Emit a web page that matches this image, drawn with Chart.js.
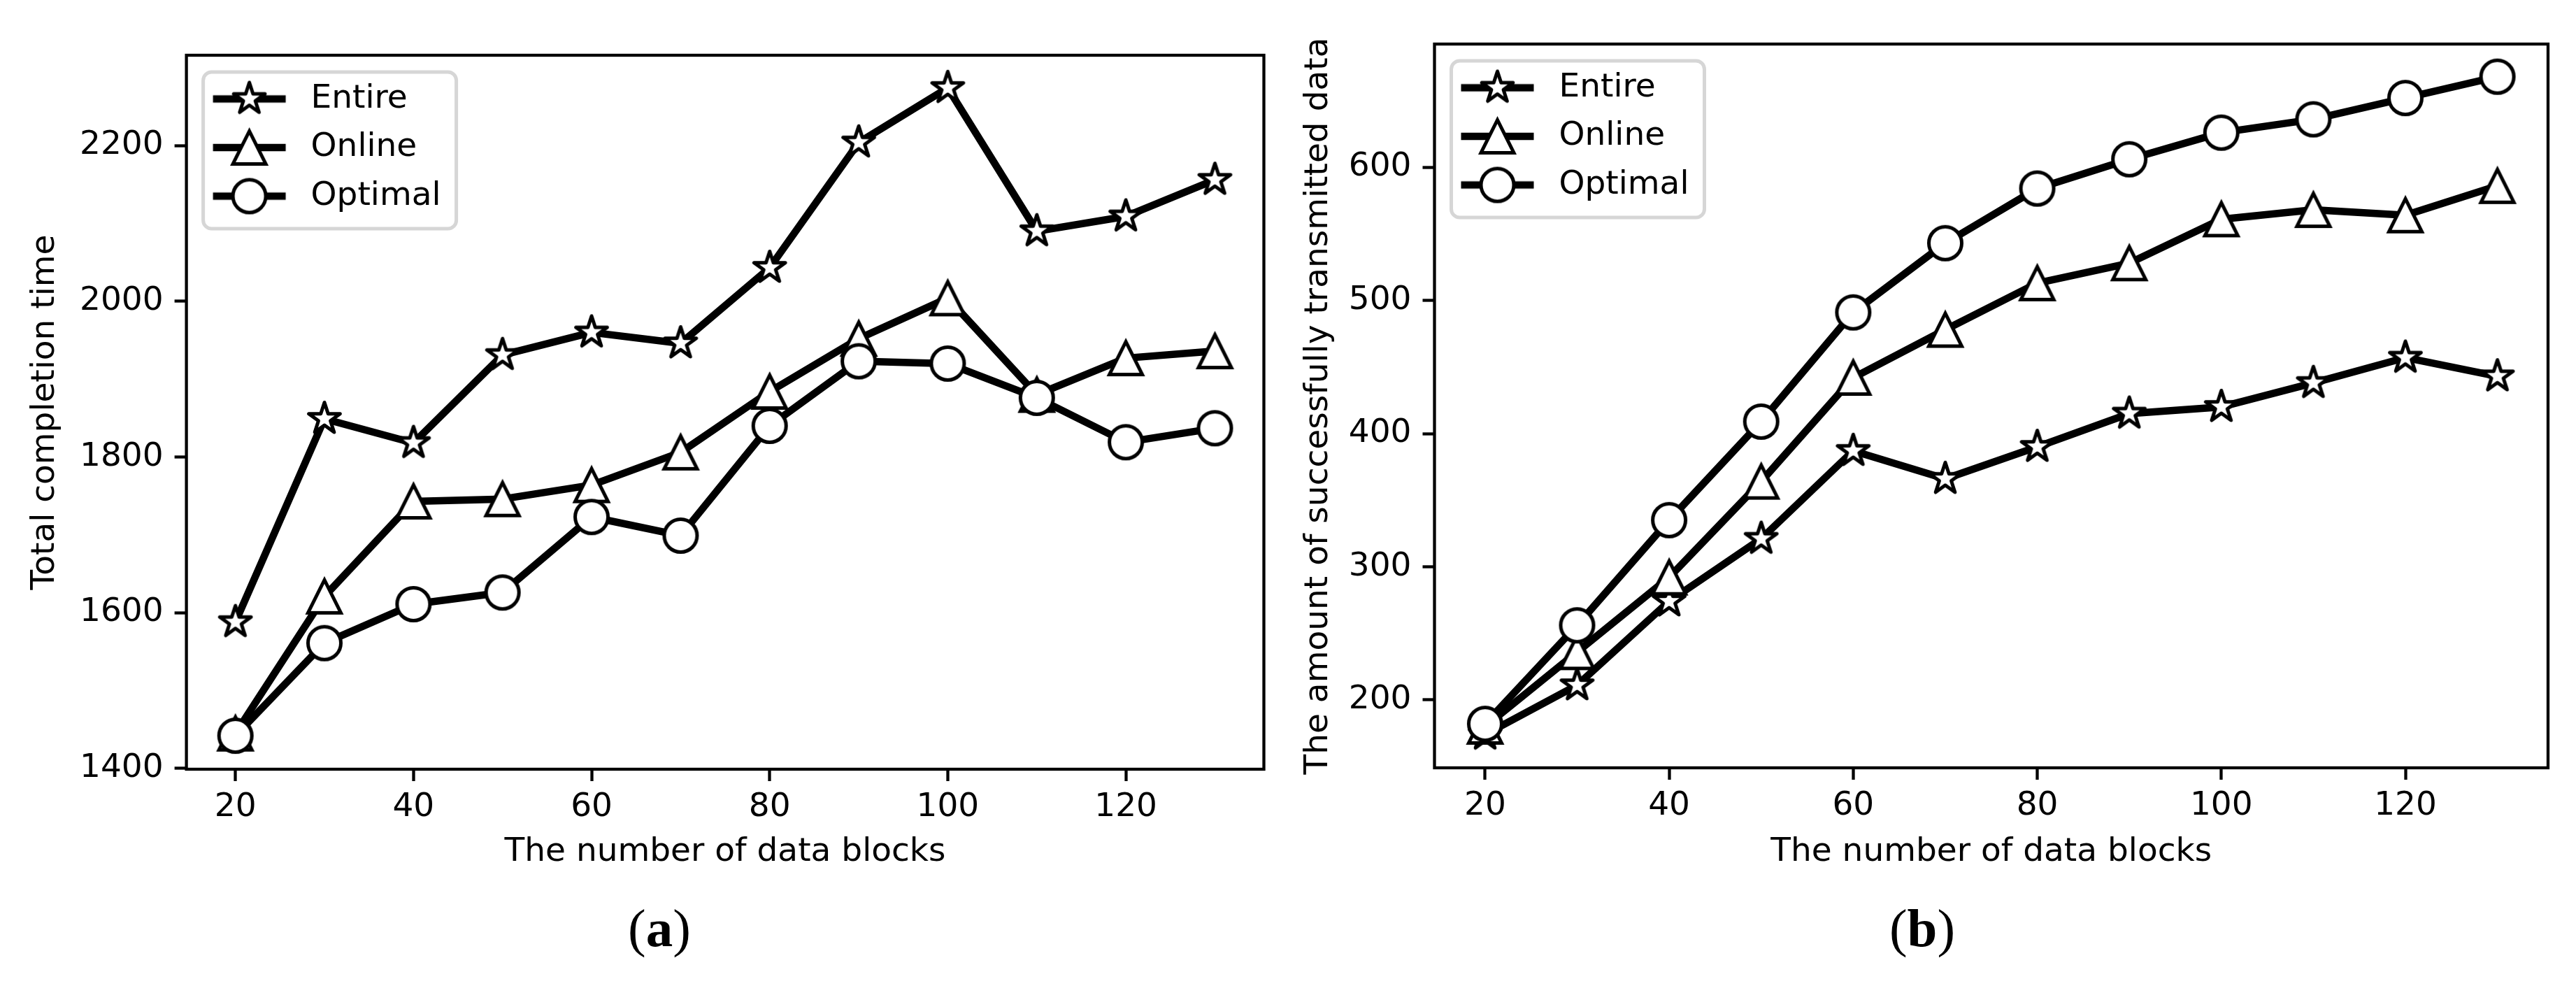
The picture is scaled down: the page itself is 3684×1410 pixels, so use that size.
<!DOCTYPE html>
<html><head><meta charset="utf-8">
<script src="https://cdn.jsdelivr.net/npm/chart.js@4.4.0/dist/chart.umd.min.js"></script>
<style>
html,body{margin:0;padding:0;background:#fff;}
body{width:3684px;height:1410px;position:relative;overflow:hidden;}
canvas{position:absolute;top:0;}
#cA{left:0;} #cB{left:1842px;}
.cap{position:absolute;top:1289px;font-family:'Liberation Serif',serif;font-size:77px;line-height:1;transform:translateX(-50%);white-space:nowrap;color:#000;}
</style></head><body>
<canvas id="cA" width="1842" height="1410" style="width:1842px;height:1410px"></canvas>
<canvas id="cB" width="1842" height="1410" style="width:1842px;height:1410px"></canvas>
<div class="cap" style="left:943px">(<b>a</b>)</div>
<div class="cap" style="left:2749px">(<b>b</b>)</div>
<script>
// ---------- data ----------
const blocks = [20, 30, 40, 50, 60, 70, 80, 90, 100, 110, 120, 130];
const seriesNames = ['Entire', 'Online', 'Optimal'];

const entireA  = [1588, 1849, 1818, 1931, 1960, 1946, 2043, 2204, 2274, 2090, 2109, 2156];
const onlineA  = [1445, 1621, 1743, 1746, 1764, 1806, 1884, 1952, 2004, 1880, 1927, 1936];
const optimalA = [1442, 1561, 1611, 1626, 1723, 1699, 1840, 1923, 1920, 1876, 1819, 1837];

const entireB  = [174, 211, 274, 321, 387, 366, 390, 415, 420, 438, 457, 443];
const onlineB  = [180, 236, 292, 364, 442, 478, 513, 528, 561, 568, 564, 586];
const optimalB = [182, 256, 335, 409, 491, 543, 584, 606, 626, 636, 652, 668];

const xTicks  = [20, 40, 60, 80, 100, 120];
const yTicksA = [1400, 1600, 1800, 2000, 2200];
const yTicksB = [200, 300, 400, 500, 600];

const xLabel  = 'The number of data blocks';
const yLabelA = 'Total completion time';
const yLabelB = 'The amount of successfully transmitted data';

// ---------- styles ----------
const FONT = "'DejaVu Sans'";
const FS = 47;
const LW = 10.5;     // line width
const MS = 47;       // marker size
const MEW = 5;       // marker edge width

function drawMarker(ctx, kind, cx, cy) {
  ctx.lineWidth = MEW;
  ctx.strokeStyle = '#000';
  ctx.fillStyle = '#fff';
  ctx.beginPath();
  const h = MS / 2;
  if (kind === 'star') {
    ctx.lineJoin = 'round';
    for (let k = 0; k < 10; k++) {
      const r = (k % 2) ? h * 0.381966 : h;
      const a = -Math.PI / 2 + k * Math.PI / 5;
      const px = cx + r * Math.cos(a), py = cy + r * Math.sin(a);
      if (k === 0) ctx.moveTo(px, py); else ctx.lineTo(px, py);
    }
    ctx.closePath();
  } else if (kind === 'tri') {
    ctx.lineJoin = 'miter';
    ctx.moveTo(cx, cy - h);
    ctx.lineTo(cx - h, cy + h);
    ctx.lineTo(cx + h, cy + h);
    ctx.closePath();
  } else {
    ctx.arc(cx, cy, h, 0, Math.PI * 2);
  }
  ctx.fill();
  ctx.stroke();
}

function markerImage(kind) {
  const c = document.createElement('canvas');
  c.width = 76; c.height = 76;
  drawMarker(c.getContext('2d'), kind, 38, 38);
  return c;
}
function legendImage(kind) {
  const c = document.createElement('canvas');
  c.width = 128; c.height = 64;
  const ctx = c.getContext('2d');
  ctx.strokeStyle = '#000';
  ctx.lineWidth = LW;
  ctx.lineCap = 'butt';
  ctx.beginPath();
  ctx.moveTo(13.5, 32); ctx.lineTo(117.5, 32);
  ctx.stroke();
  drawMarker(ctx, kind, 65.5, 32);
  return c;
}
const kinds = ['star', 'tri', 'circle'];
const markerImgs = kinds.map(markerImage);
const legendImgs = kinds.map(legendImage);

Chart.defaults.font.family = FONT;
Chart.defaults.font.size = FS;
Chart.defaults.color = '#000';

const framePlugin = {
  id: 'frame',
  afterLayout(chart) {
    const ca = chart.chartArea;
    if (chart.legend) { chart.legend.left = ca.left; chart.legend.top = ca.top + 16.5; }
  },
  beforeDraw(chart) {
    const ca = chart.chartArea, ctx = chart.ctx;
    ctx.save();
    ctx.beginPath();
    ctx.roundRect(ca.left + 24, ca.top + 24, 362, 224, 12);
    ctx.fillStyle = 'rgba(255,255,255,0.8)';
    ctx.fill();
    ctx.lineWidth = 5;
    ctx.strokeStyle = '#d6d6d6';
    ctx.stroke();
    ctx.restore();
  },
  afterDraw(chart) {
    const ca = chart.chartArea, ctx = chart.ctx;
    ctx.save();
    ctx.lineWidth = 4.3;
    ctx.strokeStyle = '#000';
    ctx.strokeRect(ca.left, ca.top, ca.right - ca.left, ca.bottom - ca.top);
    ctx.restore();
  }
};

function makeChart(id, series, yTicks, yLabel, g) {
  const datasets = series.map((vals, k) => ({
    label: seriesNames[k],
    data: blocks.map((x, i) => ({x: x, y: vals[i]})),
    borderColor: '#000',
    backgroundColor: '#fff',
    borderWidth: LW,
    borderJoinStyle: 'round',
    tension: 0,
    fill: false,
    pointStyle: markerImgs[k],
    pointRadius: 24,
    pointHoverRadius: 24,
    order: 2 - k
  }));
  const H = 1410;
  return new Chart(document.getElementById(id), {
    type: 'line',
    data: {datasets},
    plugins: [framePlugin],
    options: {
      responsive: false,
      animation: false,
      devicePixelRatio: 1,
      events: [],
      layout: {padding: {left: 0, top: g.top, right: 1842 - g.right, bottom: 0}},
      plugins: {
        tooltip: {enabled: false},
        legend: {
          position: 'chartArea',
          align: 'start',
          labels: {
            usePointStyle: true,
            pointStyleWidth: 132,
            padding: 22.5,
            color: '#000',
            font: {family: FONT, size: FS},
            generateLabels: chart => chart.data.datasets.map((ds, i) => ({
              text: ds.label, pointStyle: legendImgs[i], datasetIndex: i,
              hidden: false, lineWidth: 0, strokeStyle: 'rgba(0,0,0,0)',
              fillStyle: 'rgba(0,0,0,0)', fontColor: '#000'
            }))
          }
        }
      },
      scales: {
        x: {
          type: 'linear',
          min: 14.5, max: 135.5,
          afterBuildTicks: s => { s.ticks = xTicks.map(v => ({value: v})); },
          afterFit: s => { s.height = H - g.bottom; },
          grid: {drawOnChartArea: false, drawTicks: true, tickLength: 17, tickWidth: 4.3, tickColor: '#000'},
          border: {display: false},
          ticks: {autoSkip: false, maxRotation: 0, minRotation: 0, padding: g.xpad, color: '#000',
                  font: {family: FONT, size: FS}, callback: v => String(v)},
          title: {display: true, text: xLabel, color: '#000', font: {family: FONT, size: FS, lineHeight: 1.2},
                  padding: {top: 0, bottom: 162.8}}
        },
        y: {
          type: 'linear',
          min: g.ymin, max: g.ymax,
          afterBuildTicks: s => { s.ticks = yTicks.map(v => ({value: v})); },
          afterFit: s => { s.width = g.left; },
          grid: {drawOnChartArea: false, drawTicks: true, tickLength: 17, tickWidth: 4.3, tickColor: '#000'},
          border: {display: false},
          ticks: {autoSkip: false, padding: 16, color: '#000',
                  font: {family: FONT, size: FS}, callback: v => String(v)},
          title: {display: true, text: yLabel, color: '#000', font: {family: FONT, size: FS, lineHeight: 1.2},
                  padding: {top: g.ytpad, bottom: 0}}
        }
      }
    }
  });
}

makeChart('cA', [entireA, onlineA, optimalA], yTicksA, yLabelA,
  {left: 266.6, top: 79, right: 1837, bottom: 1100, ymin: 1399, ymax: 2316, xpad: 9.3, ytpad: 36.8});
makeChart('cB', [entireB, onlineB, optimalB], yTicksB, yLabelB,
  {left: 209.5, top: 63, right: 1802, bottom: 1098, ymin: 149, ymax: 692.5, xpad: 9.8, ytpad: 15.8});
</script>
</body></html>
